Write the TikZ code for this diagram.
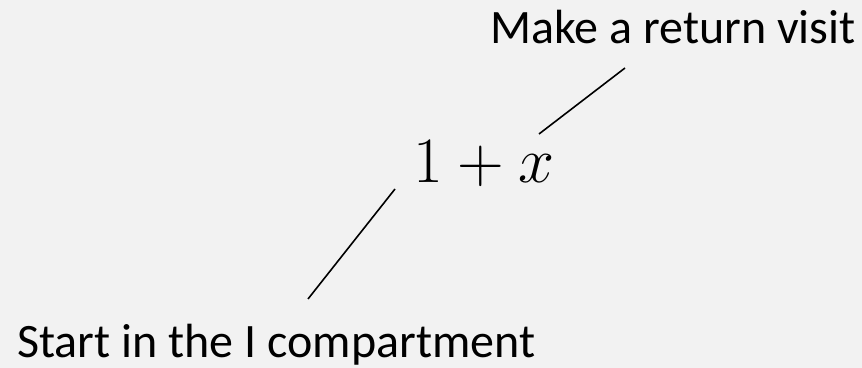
\documentclass[tikz,border=0pt]{standalone}
\usepackage{fontspec}
\setmainfont{Carlito}
\usetikzlibrary{positioning, calc}

\begin{document}
\begin{tikzpicture}[
    x=0.5pt, y=-0.5pt,
    lbl/.style={font=\fontsize{24}{28}\selectfont, inner sep=0pt, anchor=base west},
    expr/.style={font=\fontsize{24.88}{30}\selectfont, inner sep=0pt, anchor=base west,
                 scale=1.3, transform shape},
    link/.style={draw, line width=0.8pt},
]

    %==================== background ====================
    \fill[gray!10] (0,0) rectangle (862,368);
    \useasboundingbox (0,0) rectangle (862,368);

    %==================== expression ====================
    \node[expr] (sum) at (413,183) {$1+x$};

    %==================== labels ====================
    \node[lbl] (visit) at (490,44) {Make a return visit};
    \node[lbl] (start) at (17,358) {Start in the I compartment};

    %==================== pointer lines ====================
    \coordinate (v1) at (625,68);
    \coordinate (v2) at (539,134);
    \coordinate (s1) at (395,189);
    \coordinate (s2) at (308,299);
    \draw[link] (v1) -- (v2);
    \draw[link] (s1) -- (s2);

\end{tikzpicture}
\end{document}
